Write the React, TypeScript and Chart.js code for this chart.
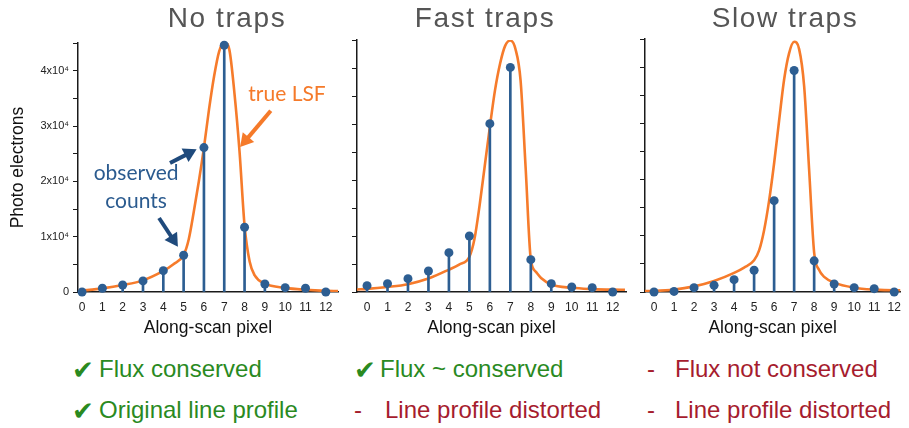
import React, { useEffect, useRef } from "react";
import { Chart, registerables } from "chart.js";

Chart.register(...registerables);

const FONT = "'Liberation Sans', Arial, Helvetica, sans-serif";
const HUMANIST = "Lato, 'Open Sans', sans-serif";

// ---------- data ----------
const pixels = [0, 1, 2, 3, 4, 5, 6, 7, 8, 9, 10, 11, 12];
const yTickValues = [0, 5000, 10000, 15000, 20000, 25000, 30000, 35000, 40000, 45000];

const noTrapCounts = [0, 670, 1270, 2000, 3860, 6650, 26100, 44600, 11700, 1450, 780, 670, 0];
const fastTrapCounts = [1130, 1490, 2380, 3750, 7020, 10000, 30060, 40100, 5770, 1490, 890, 770, 0];
const slowTrapCounts = [0, 100, 770, 1190, 2200, 3870, 16250, 39400, 5540, 1430, 770, 600, 0];

const lsfX = [-0.5, 0, 1, 2, 3, 4, 4.5, 5, 5.25, 5.5, 5.75, 6, 6.25, 6.5, 6.75, 7, 7.25, 7.5, 7.75, 8, 8.25, 8.5, 9, 10, 11, 12, 12.6];
const noTrapLsf = [150, 250, 650, 1250, 2100, 3800, 5000, 6700, 9500, 14500, 20000, 26100, 33000, 39000, 43500, 45200, 43800, 36000, 25500, 12000, 5500, 3000, 1500, 750, 400, 200, 150];
const fastTrapLsf = [450, 550, 900, 1400, 2400, 4000, 4900, 6300, 9500, 15500, 22500, 29500, 36000, 40800, 44000, 44900, 43400, 37800, 22000, 5800, 3600, 2500, 1350, 750, 520, 420, 400];
const slowTrapLsf = [150, 180, 420, 1000, 1960, 3400, 4350, 5650, 7400, 11000, 16250, 22900, 30500, 37800, 42500, 44500, 43200, 36600, 21700, 7000, 3900, 2700, 1670, 770, 420, 300, 300];

// annotation arrows (data coordinates, panel 1)
const arrowTails = [[4.33, 23300], [3.79, 13370], [9.29, 32770]];
const arrowTips = [[5.64, 25790], [4.72, 8190], [7.78, 26200]];
const arrowColors = ["#1f4a7c", "#1f4a7c", "#f57a2a"];

const labelTexts = ["true LSF", "observed", "counts"];
const labelPos = [[10.09, 34570], [2.66, 20240], [2.66, 15130]];
const labelColors = ["#f57a2a", "#2b5b8f", "#2b5b8f"];

const BLUE = "#2d5e92";
const ORANGE = "#f67b2b";

const panels = [
  { title: "No traps", titleX: 227, counts: noTrapCounts, lsf: noTrapLsf, left: 0, width: 345, yWidth: 78, padRight: 7, padTop: 43, xMin: -0.2, xMax: 12.6, labels: true, notes: true },
  { title: "Fast traps", titleX: 485, counts: fastTrapCounts, lsf: fastTrapLsf, left: 345, width: 290, yWidth: 12, padRight: 9, padTop: 40, xMin: -0.49, xMax: 12.65, labels: false, notes: false },
  { title: "Slow traps", titleX: 785, counts: slowTrapCounts, lsf: slowTrapLsf, left: 635, width: 274, yWidth: 10, padRight: 0, padTop: 39, xMin: -0.45, xMax: 12.3, labels: false, notes: false },
];

const outcomes = [
  { mark: "✔", text: "Flux conserved", ok: true, markX: 72, textX: 99, row: 0 },
  { mark: "✔", text: "Flux ~ conserved", ok: true, markX: 354, textX: 380, row: 0 },
  { mark: "-", text: "Flux not conserved", ok: false, markX: 647, textX: 675, row: 0 },
  { mark: "✔", text: "Original line profile", ok: true, markX: 72, textX: 99, row: 1 },
  { mark: "-", text: "Line profile distorted", ok: false, markX: 354, textX: 385, row: 1 },
  { mark: "-", text: "Line profile distorted", ok: false, markX: 647, textX: 675, row: 1 },
];

const CANVAS_H = 341;
const X_AXIS_H = 49;

const notesPlugin = {
  id: "notes",
  afterDatasetsDraw(chart: any) {
    const { ctx } = chart;
    const xs = chart.scales.x;
    const ys = chart.scales.y;
    ctx.save();
    for (let i = 0; i < arrowTails.length; i++) {
      const x0 = xs.getPixelForValue(arrowTails[i][0]);
      const y0 = ys.getPixelForValue(arrowTails[i][1]);
      const x1 = xs.getPixelForValue(arrowTips[i][0]);
      const y1 = ys.getPixelForValue(arrowTips[i][1]);
      const ang = Math.atan2(y1 - y0, x1 - x0);
      const headLen = 13;
      const headHalf = 7.5;
      const bx = x1 - headLen * Math.cos(ang);
      const by = y1 - headLen * Math.sin(ang);
      ctx.strokeStyle = arrowColors[i];
      ctx.fillStyle = arrowColors[i];
      ctx.lineWidth = 4;
      ctx.lineCap = "butt";
      ctx.beginPath();
      ctx.moveTo(x0, y0);
      ctx.lineTo(bx + 2 * Math.cos(ang), by + 2 * Math.sin(ang));
      ctx.stroke();
      ctx.beginPath();
      ctx.moveTo(x1, y1);
      ctx.lineTo(bx + headHalf * Math.sin(ang), by - headHalf * Math.cos(ang));
      ctx.lineTo(bx - headHalf * Math.sin(ang), by + headHalf * Math.cos(ang));
      ctx.closePath();
      ctx.fill();
    }
    ctx.textAlign = "center";
    ctx.textBaseline = "alphabetic";
    for (let i = 0; i < labelTexts.length; i++) {
      ctx.font = "21px " + HUMANIST;
      ctx.fillStyle = labelColors[i];
      ctx.fillText(labelTexts[i], xs.getPixelForValue(labelPos[i][0]), ys.getPixelForValue(labelPos[i][1]));
    }
    ctx.restore();
  },
};

function Panel({ cfg }: { cfg: any }) {
  const ref = useRef<HTMLCanvasElement>(null);
  useEffect(() => {
    if (!ref.current) return;
    const chart = new Chart(ref.current, {
      type: "line",
      data: {
        datasets: [
          {
            type: "line",
            data: lsfX.map((x, i) => ({ x, y: cfg.lsf[i] })),
            borderColor: ORANGE,
            borderWidth: 2.6,
            pointRadius: 0,
            cubicInterpolationMode: "monotone",
            fill: false,
            order: 3,
          } as any,
          {
            type: "bar",
            data: pixels.map((x, i) => ({ x, y: cfg.counts[i] })),
            backgroundColor: BLUE,
            borderWidth: 0,
            barThickness: 2,
            order: 2,
          } as any,
          {
            type: "line",
            data: pixels.map((x, i) => ({ x, y: cfg.counts[i] })),
            showLine: false,
            pointRadius: 4.5,
            pointBackgroundColor: BLUE,
            pointBorderWidth: 0,
            clip: false,
            order: 1,
          } as any,
        ],
      },
      options: {
        responsive: false,
        animation: false,
        devicePixelRatio: 1,
        layout: { padding: { top: cfg.padTop, right: cfg.padRight, left: 0, bottom: 0 } },
        plugins: { legend: { display: false }, tooltip: { enabled: false }, title: { display: false } },
        scales: {
          x: {
            type: "linear",
            min: cfg.xMin,
            max: cfg.xMax,
            offset: false,
            grid: { display: false, drawTicks: false, offset: false },
            border: { display: true, color: "#1a1a1a", width: 1.5 },
            afterBuildTicks: (s: any) => {
              s.ticks = pixels.map((v) => ({ value: v }));
            },
            afterFit: (s: any) => {
              s.height = X_AXIS_H;
            },
            ticks: {
              autoSkip: false,
              maxRotation: 0,
              padding: 8,
              color: "#222",
              font: { family: FONT, size: 12 },
              callback: (v: any) => String(v),
            },
            title: {
              display: true,
              text: "Along-scan pixel",
              color: "#111",
              font: { family: FONT, size: 17.5 },
              padding: { top: 0, bottom: 2 },
            },
          },
          y: {
            type: "linear",
            min: 0,
            max: 45000,
            afterBuildTicks: (s: any) => {
              s.ticks = yTickValues.map((v) => ({ value: v }));
            },
            afterFit: (s: any) => {
              s.width = cfg.yWidth;
            },
            grid: { display: true, drawOnChartArea: false, drawTicks: true, tickLength: 5, color: "#1a1a1a", lineWidth: 1 },
            border: { display: true, color: "#1a1a1a", width: 1.5 },
            ticks: {
              padding: 4,
              color: "#222",
              font: { family: FONT, size: 11 },
              callback: (v: any) => {
                if (!cfg.labels) return "";
                if (v === 0) return "0";
                if (v % 10000 === 0) return `${v / 10000}x10⁴`;
                return "";
              },
            },
            title: {
              display: cfg.labels,
              text: "Photo electrons",
              color: "#111",
              font: { family: FONT, size: 17.5 },
              padding: { top: 8, bottom: 0 },
            },
          },
        },
      },
      plugins: cfg.notes ? [notesPlugin] : [],
    } as any);
    return () => chart.destroy();
  }, [cfg]);
  return (
    <canvas
      ref={ref}
      width={cfg.width}
      height={CANVAS_H}
      style={{ position: "absolute", left: cfg.left, top: 0, width: cfg.width, height: CANVAS_H, display: "block" }}
    />
  );
}

export default function App() {
  return (
    <div
      style={{
        position: "fixed",
        left: 0,
        top: 0,
        width: 909,
        height: 428,
        background: "#fff",
        overflow: "hidden",
        fontFamily: FONT,
      }}
    >
      {panels.map((p) => (
        <Panel key={p.title} cfg={p} />
      ))}
      {panels.map((p) => (
        <div
          key={"t" + p.title}
          style={{
            position: "absolute",
            left: p.titleX - 100,
            width: 200,
            top: 1.5,
            textAlign: "center",
            fontSize: 28,
            lineHeight: "32px",
            letterSpacing: "1.6px",
            color: "#555",
            whiteSpace: "nowrap",
          }}
        >
          {p.title}
        </div>
      ))}
      {outcomes.map((o, i) => (
        <React.Fragment key={"o" + i}>
          <span
            style={{
              position: "absolute",
              left: o.markX,
              top: o.row === 0 ? (o.ok ? 355.5 : 354.5) : o.ok ? 396.5 : 395.5,
              fontFamily: o.ok ? "'DejaVu Sans', sans-serif" : FONT,
              fontSize: o.ok ? 26 : 24,
              lineHeight: "28px",
              color: o.ok ? "#2a8a1f" : "#a61c2e",
              whiteSpace: "nowrap",
            }}
          >
            {o.mark}
          </span>
          <span
            style={{
              position: "absolute",
              left: o.textX,
              top: o.row === 0 ? 354.5 : 395.5,
              fontSize: 24,
              lineHeight: "28px",
              color: o.ok ? "#2a8a1f" : "#a61c2e",
              whiteSpace: "nowrap",
            }}
          >
            {o.text}
          </span>
        </React.Fragment>
      ))}
    </div>
  );
}
